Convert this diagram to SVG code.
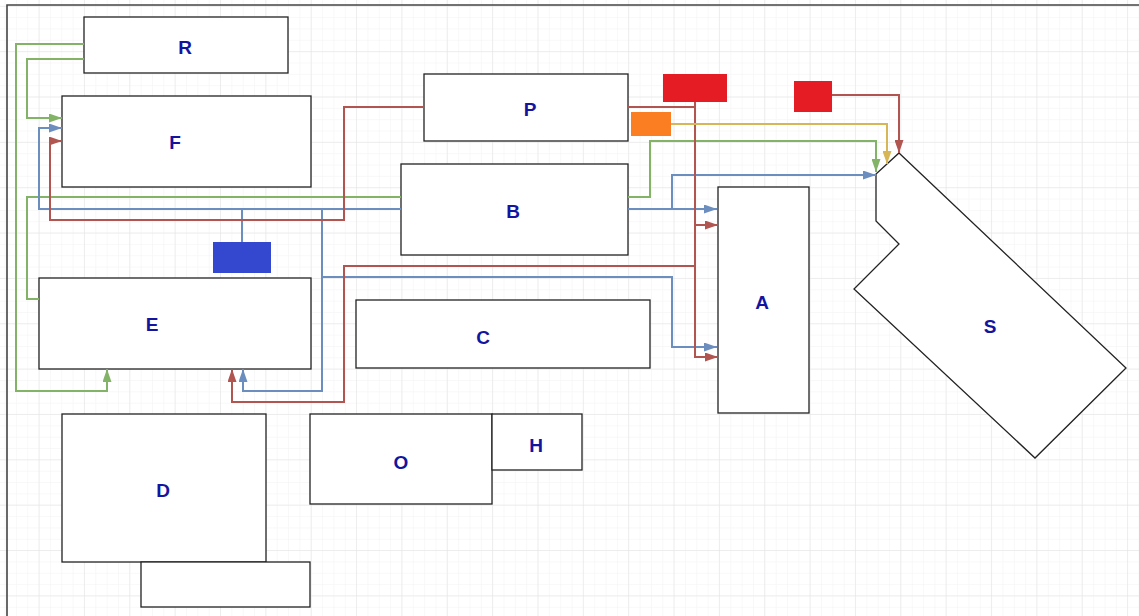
<svg xmlns="http://www.w3.org/2000/svg" width="1139" height="616" viewBox="0 0 1139 616">
  <style>
    .node { fill: #ffffff; stroke: #222222; stroke-width: 1.3; }
    .lbl { font-family: "Liberation Sans", Arial, sans-serif; font-weight: bold; font-size: 19px; fill: #14149f; text-anchor: middle; dominant-baseline: central; }
    .wire { fill: none; stroke-width: 2; stroke-linejoin: miter; }
    .g { stroke: #82b366; }
    .b { stroke: #6c8ebf; }
    .r { stroke: #b05550; }
    .y { stroke: #d6b656; }
  </style>
  <defs>
    <pattern id="minor" patternUnits="userSpaceOnUse" x="38.6" y="5.8" width="11.34" height="11.34">
      <path d="M0,0 H11.34 M0,0 V11.34" fill="none" stroke="#f2f2f2" stroke-width="1"/>
    </pattern>
    <pattern id="major" patternUnits="userSpaceOnUse" x="38.6" y="5.8" width="45.35" height="45.35">
      <path d="M0,0 H45.35 M0,0 V45.35" fill="none" stroke="#e2e2e2" stroke-width="1"/>
    </pattern>
    <marker id="ag" markerUnits="userSpaceOnUse" markerWidth="13" markerHeight="9" refX="13" refY="4.5" orient="auto">
      <path d="M0,0 L13,4.5 L0,9 z" fill="#82b366"/>
    </marker>
    <marker id="ab" markerUnits="userSpaceOnUse" markerWidth="13" markerHeight="9" refX="13" refY="4.5" orient="auto">
      <path d="M0,0 L13,4.5 L0,9 z" fill="#6c8ebf"/>
    </marker>
    <marker id="ar" markerUnits="userSpaceOnUse" markerWidth="13" markerHeight="9" refX="13" refY="4.5" orient="auto">
      <path d="M0,0 L13,4.5 L0,9 z" fill="#b05550"/>
    </marker>
    <marker id="ay" markerUnits="userSpaceOnUse" markerWidth="13" markerHeight="9" refX="13" refY="4.5" orient="auto">
      <path d="M0,0 L13,4.5 L0,9 z" fill="#d6b656"/>
    </marker>
  </defs>

  <!-- canvas with grid and frame -->
  <rect x="0" y="0" width="1139" height="616" fill="#ffffff"/>
  <rect x="0" y="0" width="1139" height="616" fill="url(#minor)"/>
  <rect x="0" y="0" width="1139" height="616" fill="url(#major)"/>
  <path d="M7,620 V5 H1145" fill="none" stroke="#444444" stroke-width="1.6"/>

  <!-- nodes -->
  <g id="node-R"><rect class="node" x="84" y="17" width="204" height="56"/><text class="lbl" x="185" y="47">R</text></g>
  <g id="node-F"><rect class="node" x="62" y="96" width="249" height="91"/><text class="lbl" x="175" y="142">F</text></g>
  <g id="node-P"><rect class="node" x="424" y="74" width="204" height="67"/><text class="lbl" x="530" y="109">P</text></g>
  <g id="node-B"><rect class="node" x="401" y="164" width="227" height="91"/><text class="lbl" x="513" y="211">B</text></g>
  <g id="node-E"><rect class="node" x="39" y="278" width="272" height="91"/><text class="lbl" x="152" y="324">E</text></g>
  <g id="node-C"><rect class="node" x="356" y="300" width="294" height="68"/><text class="lbl" x="483" y="337">C</text></g>
  <g id="node-A"><rect class="node" x="718" y="187" width="91" height="226"/><text class="lbl" x="762" y="302">A</text></g>
  <g id="node-D"><rect class="node" x="62" y="414" width="204" height="148"/><text class="lbl" x="163" y="490">D</text></g>
  <g id="node-D2"><rect class="node" x="141" y="562" width="169" height="45"/></g>
  <g id="node-O"><rect class="node" x="310" y="414" width="182" height="90"/><text class="lbl" x="401" y="462">O</text></g>
  <g id="node-H"><rect class="node" x="492" y="414" width="90" height="56"/><text class="lbl" x="536" y="445">H</text></g>
  <g id="node-S">
    <polygon class="node" points="899,153 1126,368 1035,458 854,289 899,244 876,221 876,174"/>
    <text class="lbl" x="990" y="326">S</text>
  </g>
  <g id="node-red1"><rect x="663" y="74" width="64" height="28" fill="#e61c24"/></g>
  <g id="node-red2"><rect x="794" y="81" width="38" height="31" fill="#e61c24"/></g>
  <g id="node-orange"><rect x="631" y="112" width="40" height="24" fill="#fb7e23"/></g>
  <g id="node-blue"><rect x="213" y="242" width="58" height="31" fill="#3447cf"/></g>

  <!-- connectors -->
  <g id="connectors">
    <!-- green -->
    <path class="wire g" d="M84,44 H16 V391 H107 V369" marker-end="url(#ag)"/>
    <path class="wire g" d="M84,59 H27 V118 H62" marker-end="url(#ag)"/>
    <path class="wire g" d="M39,299 H27 V197 H401"/>
    <path class="wire g" d="M628,197 H650 V141 H876 V172" marker-end="url(#ag)"/>
    <!-- blue -->
    <path class="wire b" d="M401,209 H39 V128 H62" marker-end="url(#ab)"/>
    <path class="wire b" d="M242,242 V209"/>
    <path class="wire b" d="M322,209 V391 H243 V369" marker-end="url(#ab)"/>
    <path class="wire b" d="M322,277 H672 V347 H717" marker-end="url(#ab)"/>
    <path class="wire b" d="M628,209 H717" marker-end="url(#ab)"/>
    <path class="wire b" d="M672,209 V175 H876" marker-end="url(#ab)"/>
    <!-- red -->
    <path class="wire r" d="M424,107 H344 V220 H50 V141 H62" marker-end="url(#ar)"/>
    <path class="wire r" d="M628,107 H695"/>
    <path class="wire r" d="M695,102 V357 H718" marker-end="url(#ar)"/>
    <path class="wire r" d="M695,225 H718" marker-end="url(#ar)"/>
    <path class="wire r" d="M695,266 H344 V402 H232 V369" marker-end="url(#ar)"/>
    <path class="wire r" d="M832,95 H899 V153" marker-end="url(#ar)"/>
    <!-- yellow -->
    <path class="wire y" d="M671,124 H887 V164" marker-end="url(#ay)"/>
  </g>
</svg>
